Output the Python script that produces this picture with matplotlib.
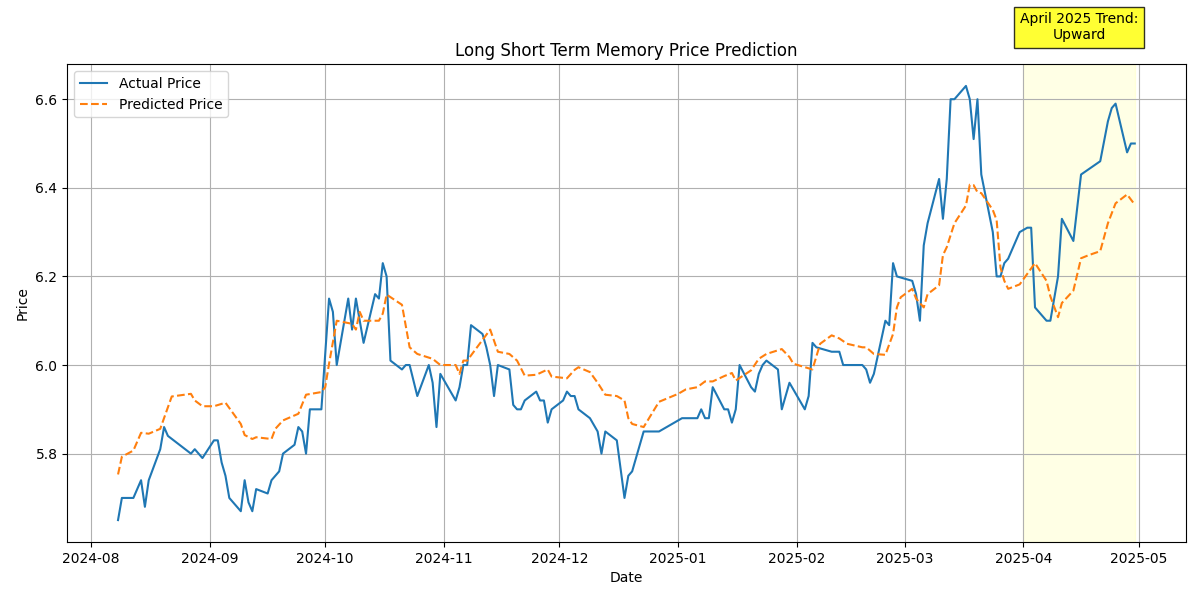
import pandas as pd
import matplotlib
matplotlib.use("Agg")
import matplotlib.pyplot as plt

actual_dates = [
    "2024-08-08", "2024-08-09", "2024-08-12", "2024-08-14", "2024-08-15", "2024-08-16",
    "2024-08-19", "2024-08-20", "2024-08-21", "2024-08-27", "2024-08-28", "2024-08-30",
    "2024-09-02", "2024-09-03", "2024-09-04", "2024-09-05", "2024-09-06", "2024-09-09",
    "2024-09-10", "2024-09-11", "2024-09-12", "2024-09-13", "2024-09-16", "2024-09-17",
    "2024-09-19", "2024-09-20", "2024-09-23", "2024-09-24", "2024-09-25", "2024-09-26",
    "2024-09-27", "2024-09-30", "2024-10-02", "2024-10-03", "2024-10-04", "2024-10-07",
    "2024-10-08", "2024-10-09", "2024-10-11", "2024-10-14", "2024-10-15", "2024-10-16",
    "2024-10-17", "2024-10-18", "2024-10-21", "2024-10-22", "2024-10-23", "2024-10-25",
    "2024-10-28", "2024-10-29", "2024-10-30", "2024-10-31", "2024-11-04", "2024-11-05",
    "2024-11-06", "2024-11-07", "2024-11-08", "2024-11-11", "2024-11-12", "2024-11-13",
    "2024-11-14", "2024-11-15", "2024-11-18", "2024-11-19", "2024-11-20", "2024-11-21",
    "2024-11-22", "2024-11-25", "2024-11-26", "2024-11-27", "2024-11-28", "2024-11-29",
    "2024-12-02", "2024-12-03", "2024-12-04", "2024-12-05", "2024-12-06", "2024-12-09",
    "2024-12-10", "2024-12-11", "2024-12-12", "2024-12-13", "2024-12-16", "2024-12-18",
    "2024-12-19", "2024-12-20", "2024-12-23", "2024-12-27", "2025-01-02", "2025-01-06",
    "2025-01-07", "2025-01-08", "2025-01-09", "2025-01-10", "2025-01-13", "2025-01-14",
    "2025-01-15", "2025-01-16", "2025-01-17", "2025-01-20", "2025-01-21", "2025-01-22",
    "2025-01-23", "2025-01-24", "2025-01-27", "2025-01-28", "2025-01-30", "2025-02-03",
    "2025-02-04", "2025-02-05", "2025-02-06", "2025-02-10", "2025-02-12", "2025-02-13",
    "2025-02-18", "2025-02-19", "2025-02-20", "2025-02-21", "2025-02-24", "2025-02-25",
    "2025-02-26", "2025-02-27", "2025-03-03", "2025-03-04", "2025-03-05", "2025-03-06",
    "2025-03-07", "2025-03-10", "2025-03-11", "2025-03-12", "2025-03-13", "2025-03-14",
    "2025-03-17", "2025-03-18", "2025-03-19", "2025-03-20", "2025-03-21", "2025-03-24",
    "2025-03-25", "2025-03-26", "2025-03-27", "2025-03-28", "2025-03-31", "2025-04-02",
    "2025-04-03", "2025-04-04", "2025-04-07", "2025-04-08", "2025-04-10", "2025-04-11",
    "2025-04-14", "2025-04-16", "2025-04-21", "2025-04-23", "2025-04-24", "2025-04-25",
    "2025-04-28", "2025-04-29", "2025-04-30",
]
actual_price = [
    5.65, 5.70, 5.70, 5.74, 5.68, 5.74,
    5.81, 5.86, 5.84, 5.80, 5.81, 5.79,
    5.83, 5.83, 5.78, 5.75, 5.70, 5.67,
    5.74, 5.69, 5.67, 5.72, 5.71, 5.74,
    5.76, 5.80, 5.82, 5.86, 5.85, 5.80,
    5.90, 5.90, 6.15, 6.12, 6.00, 6.15,
    6.08, 6.15, 6.05, 6.16, 6.15, 6.23,
    6.20, 6.01, 5.99, 6.00, 6.00, 5.93,
    6.00, 5.96, 5.86, 5.98, 5.92, 5.95,
    6.00, 6.00, 6.09, 6.07, 6.04, 6.00,
    5.93, 6.00, 5.99, 5.91, 5.90, 5.90,
    5.92, 5.94, 5.92, 5.92, 5.87, 5.90,
    5.92, 5.94, 5.93, 5.93, 5.90, 5.88,
    5.865, 5.85, 5.80, 5.85, 5.83, 5.70,
    5.75, 5.76, 5.85, 5.85, 5.88, 5.88,
    5.90, 5.88, 5.88, 5.95, 5.90, 5.90,
    5.87, 5.90, 6.00, 5.95, 5.94, 5.98,
    6.00, 6.01, 5.99, 5.90, 5.96, 5.90,
    5.93, 6.05, 6.04, 6.03, 6.03, 6.00,
    6.00, 5.99, 5.96, 5.98, 6.10, 6.09,
    6.23, 6.20, 6.19, 6.16, 6.10, 6.27,
    6.32, 6.42, 6.33, 6.42, 6.60, 6.60,
    6.63, 6.60, 6.51, 6.60, 6.43, 6.30,
    6.20, 6.20, 6.23, 6.24, 6.30, 6.31,
    6.31, 6.13, 6.10, 6.10, 6.20, 6.33,
    6.28, 6.43, 6.46, 6.55, 6.58, 6.59,
    6.48, 6.50, 6.50,
]

pred_dates = [
    "2024-08-08", "2024-08-09", "2024-08-12", "2024-08-14", "2024-08-16", "2024-08-19",
    "2024-08-22", "2024-08-27", "2024-08-28", "2024-08-30", "2024-09-02", "2024-09-05",
    "2024-09-09", "2024-09-10", "2024-09-12", "2024-09-13", "2024-09-17", "2024-09-18",
    "2024-09-20", "2024-09-24", "2024-09-26", "2024-09-30", "2024-10-01", "2024-10-02",
    "2024-10-04", "2024-10-08", "2024-10-09", "2024-10-10", "2024-10-11", "2024-10-15",
    "2024-10-16", "2024-10-17", "2024-10-21", "2024-10-23", "2024-10-25", "2024-10-29",
    "2024-10-31", "2024-11-04", "2024-11-05", "2024-11-06", "2024-11-07", "2024-11-13",
    "2024-11-15", "2024-11-18", "2024-11-20", "2024-11-22", "2024-11-25", "2024-11-28",
    "2024-11-29", "2024-12-03", "2024-12-05", "2024-12-06", "2024-12-09", "2024-12-11",
    "2024-12-13", "2024-12-16", "2024-12-18", "2024-12-19", "2024-12-20", "2024-12-23",
    "2024-12-27", "2025-01-01", "2025-01-03", "2025-01-06", "2025-01-08", "2025-01-10",
    "2025-01-13", "2025-01-15", "2025-01-16", "2025-01-20", "2025-01-22", "2025-01-24",
    "2025-01-28", "2025-01-30", "2025-01-31", "2025-02-05", "2025-02-07", "2025-02-10",
    "2025-02-12", "2025-02-14", "2025-02-18", "2025-02-19", "2025-02-21", "2025-02-24",
    "2025-02-26", "2025-02-27", "2025-02-28", "2025-03-03", "2025-03-04", "2025-03-06",
    "2025-03-07", "2025-03-10", "2025-03-11", "2025-03-12", "2025-03-14", "2025-03-17",
    "2025-03-18", "2025-03-19", "2025-03-20", "2025-03-21", "2025-03-24", "2025-03-25",
    "2025-03-26", "2025-03-27", "2025-03-28", "2025-03-31", "2025-04-04", "2025-04-07",
    "2025-04-08", "2025-04-10", "2025-04-11", "2025-04-14", "2025-04-16", "2025-04-18",
    "2025-04-21", "2025-04-23", "2025-04-25", "2025-04-28", "2025-04-30",
]
pred_price = [
    5.753, 5.793, 5.807, 5.847, 5.845, 5.856,
    5.929, 5.935, 5.920, 5.907, 5.907, 5.915,
    5.867, 5.842, 5.833, 5.837, 5.833, 5.856,
    5.875, 5.890, 5.933, 5.939, 5.950, 6.003,
    6.100, 6.093, 6.080, 6.120, 6.100, 6.100,
    6.116, 6.159, 6.136, 6.040, 6.025, 6.014,
    6.000, 6.000, 5.980, 6.010, 6.010, 6.080,
    6.030, 6.025, 6.010, 5.976, 5.978, 5.990,
    5.974, 5.970, 5.989, 5.995, 5.984, 5.960,
    5.933, 5.930, 5.920, 5.880, 5.867, 5.860,
    5.917, 5.935, 5.945, 5.950, 5.963, 5.963,
    5.975, 5.982, 5.965, 5.988, 6.014, 6.025,
    6.036, 6.018, 6.003, 5.990, 6.048, 6.067,
    6.060, 6.048, 6.040, 6.040, 6.025, 6.023,
    6.070, 6.130, 6.153, 6.172, 6.150, 6.130,
    6.160, 6.180, 6.248, 6.266, 6.320, 6.360,
    6.407, 6.406, 6.390, 6.388, 6.350, 6.327,
    6.220, 6.190, 6.172, 6.182, 6.230, 6.190,
    6.155, 6.108, 6.140, 6.168, 6.241, 6.248,
    6.257, 6.320, 6.365, 6.385, 6.362,
]

trend_start = "2025-04-01"
trend_end = "2025-04-30"
trend_label = "April 2025 Trend:\nUpward"

ad = pd.to_datetime(actual_dates)
pd_ = pd.to_datetime(pred_dates)
t0 = pd.Timestamp(trend_start)
t1 = pd.Timestamp(trend_end)

fig, ax = plt.subplots(figsize=(12, 6), dpi=100)
ax.plot(ad, actual_price, label="Actual Price")
ax.plot(pd_, pred_price, "--", label="Predicted Price")
ax.axvspan(t0, t1, color="yellow", alpha=0.1)
# label box sits above the shaded month
ax.text(t0 + (t1 - t0) / 2, max(actual_price) * 1.02, trend_label,
        ha="center", va="center", fontsize=10,
        bbox=dict(facecolor="yellow", alpha=0.8))
ax.set_title("Long Short Term Memory Price Prediction")
ax.set_xlabel("Date")
ax.set_ylabel("Price")
ax.legend(loc="upper left")
ax.grid(True)
fig.subplots_adjust(left=0.056, right=0.988, top=0.893, bottom=0.097)
fig.savefig("out.png")
